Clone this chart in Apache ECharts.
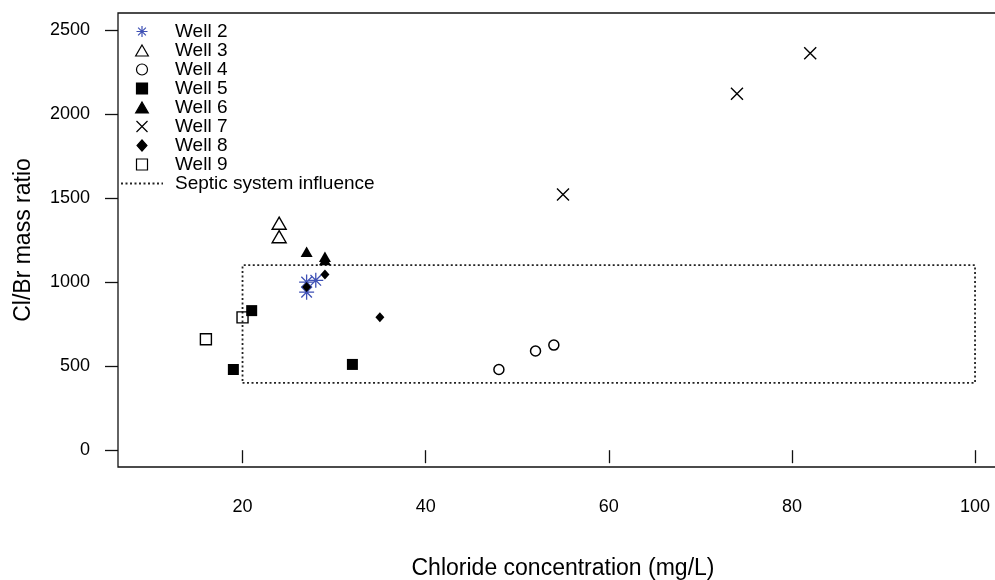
<!DOCTYPE html>
<html>
<head>
<meta charset="utf-8">
<script src="https://cdn.jsdelivr.net/npm/echarts@6/dist/echarts.min.js"></script>
<style>
  html, body { margin: 0; padding: 0; overflow: hidden; background: #fff; }
  #chart { width: 1010px; height: 580px; }
</style>
</head>
<body>
<div id="chart"></div>
<script>
// Chloride concentration (mg/L) vs Cl/Br mass ratio, one array per well
const well2 = [[27, 940], [27, 1000], [28, 1010]];
const well3 = [[24, 1350], [24, 1270]];
const well4 = [[48, 480], [52, 590], [54, 625]];
const well5 = [[21, 830], [19, 480], [32, 510]];
const well6 = [[27, 1180], [29, 1150], [29, 1130]];
const well7 = [[55, 1520], [74, 2120], [82, 2360]];
const well8 = [[27, 970], [29, 1045], [35, 790]];
const well9 = [[20, 790], [16, 660]];

// Outline of the septic-influence zone (corner points, closed)
const septicX = [20, 100, 100, 20, 20];
const septicY = [400, 400, 1100, 1100, 400];

const xTicks = [20, 40, 60, 80, 100];
const yTicks = [0, 500, 1000, 1500, 2000, 2500];

const FONT = '"Liberation Sans", Arial, sans-serif';

const SYM = {
  asterisk: 'path://M0,-1L0,1M-1,0L1,0M-0.707,-0.707L0.707,0.707M-0.707,0.707L0.707,-0.707',
  triangle: 'path://M0,-1L0.866,0.5L-0.866,0.5Z',
  square: 'path://M0,0L1,0L1,1L0,1Z',
  diamond: 'path://M0,-1L0.9,0L0,1L-0.9,0Z',
  cross: 'path://M-1,-1L1,1M-1,1L1,-1',
  circle: 'circle'
};

function scatter(name, data, symbol, size, fill, stroke, bw) {
  return {
    type: 'scatter',
    name: name,
    data: data,
    symbol: symbol,
    symbolSize: size,
    symbolKeepAspect: true,
    z: 3,
    itemStyle: { color: fill, borderColor: stroke, borderWidth: bw, opacity: 1 },
    emphasis: { disabled: true }
  };
}

const series = [
  scatter('Well 2', well2, SYM.asterisk, 15, 'none', '#3f51b5', 1.3),
  scatter('Well 3', well3, SYM.triangle, 14, 'none', '#000', 1.4),
  scatter('Well 4', well4, SYM.circle, 10, 'none', '#000', 1.5),
  scatter('Well 5', well5, SYM.square, 11, '#000', '#000', 0),
  scatter('Well 6', well6, SYM.triangle, 12, '#000', '#000', 0),
  scatter('Well 7', well7, SYM.cross, 12, 'none', '#000', 1.4),
  scatter('Well 8', well8, SYM.diamond, 10, '#000', '#000', 0),
  scatter('Well 9', well9, SYM.square, 11, 'none', '#000', 1.4),
  {
    type: 'line',
    name: 'Septic system influence',
    data: septicX.map((x, i) => [x, septicY[i]]),
    symbol: 'none',
    showSymbol: false,
    z: 2,
    lineStyle: { color: '#222', width: 1.8, type: [2, 2.5] },
    itemStyle: { color: 'transparent', borderColor: 'transparent', borderWidth: 0 },
    emphasis: { disabled: true }
  }
];

const legendData = series.map(s => s.type === 'line'
  ? { name: s.name, itemStyle: { color: 'transparent', borderColor: 'transparent', borderWidth: 0 } }
  : { name: s.name });

const chart = echarts.init(document.getElementById('chart'), null, { renderer: 'canvas' });
chart.setOption({
  animation: false,
  backgroundColor: '#fff',
  grid: {
    left: 118, right: 2, top: 13, bottom: 113,
    outerBoundsMode: 'none',
    containLabel: false,
    show: true, borderColor: '#111', borderWidth: 1.3, backgroundColor: 'transparent'
  },
  legend: {
    left: 120, top: 22,
    orient: 'vertical',
    padding: 0,
    itemGap: 0,
    itemWidth: 42,
    itemHeight: 11,
    selectedMode: false,
    textStyle: { color: '#000', fontSize: 19, fontFamily: FONT, lineHeight: 17.2, padding: [0, 0, 0, 7] },
    itemStyle: { borderWidth: 1.2 },
    data: legendData
  },
  xAxis: {
    type: 'value',
    min: 6.4, max: 103.6,
    name: 'Chloride concentration (mg/L)',
    nameLocation: 'middle',
    nameGap: 90,
    nameTextStyle: { color: '#000', fontSize: 23, fontFamily: FONT },
    axisLine: { show: false },
    splitLine: { show: false },
    axisTick: { show: true, length: 13, customValues: xTicks, lineStyle: { color: '#111', width: 1.3 } },
    axisLabel: { customValues: xTicks, margin: 31, color: '#000', fontSize: 18, fontFamily: FONT,
      formatter: v => String(v) }
  },
  yAxis: {
    type: 'value',
    min: -100, max: 2600,
    name: 'Cl/Br mass ratio',
    nameLocation: 'middle',
    nameGap: 83,
    nameTextStyle: { color: '#000', fontSize: 23, fontFamily: FONT },
    axisLine: { show: false },
    splitLine: { show: false },
    axisTick: { show: true, length: 13, customValues: yTicks, lineStyle: { color: '#111', width: 1.3 } },
    axisLabel: { customValues: yTicks, margin: 28, color: '#000', fontSize: 18, fontFamily: FONT,
      formatter: v => String(v) }
  },
  series: series
});
</script>
</body>
</html>
